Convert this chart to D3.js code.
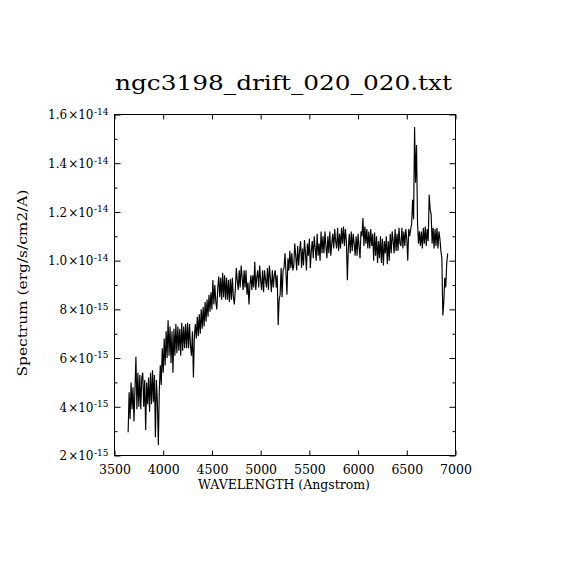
<!DOCTYPE html>
<html>
<head>
<meta charset="utf-8">
<script src="https://cdn.jsdelivr.net/npm/d3@7"></script>
<style>
  body { margin: 0; background: #fff; }
  svg { display: block; background: #fff; }
  text { font-family: "DejaVu Serif", "Liberation Serif", serif; fill: #000; }
</style>
</head>
<body>
<svg width="570" height="570"></svg>
<script>
// spectrum: flux in units of 1e-15 erg/s/cm2/A, one sample every 10 A from 3640 A
let waveStart = 3640;
let waveStep = 10;
let flux = [
  2.95, 4.6, 3.5, 5.0, 3.9, 4.8, 3.4, 4.7, 6.05, 3.9,
  5.4, 4.0, 5.3, 3.9, 5.2, 5.4, 4.0, 5.1, 3.05, 5.0,
  4.1, 5.2, 3.8, 5.4, 4.1, 5.5, 4.2, 5.3, 2.75, 5.1,
  4.2, 2.43, 4.7, 5.7, 4.9, 6.4, 5.4, 6.8, 5.7, 7.1,
  6.0, 7.55, 6.1, 7.3, 5.8, 7.1, 5.4, 7.2, 6.1, 7.4,
  6.2, 7.3, 6.3, 7.2, 6.1, 7.45, 6.3, 7.3, 6.4, 7.4,
  6.4, 7.45, 6.4, 7.4, 6.5, 6.1, 7.1, 5.2, 6.9, 7.4,
  6.8, 7.7, 6.9, 7.8, 7.0, 8.0, 7.2, 8.1, 7.3, 8.3,
  7.5, 8.4, 7.7, 8.6, 7.9, 8.7, 8.0, 9.2, 8.2, 9.0,
  8.3, 8.0, 8.9, 9.35, 8.5, 9.3, 8.4, 9.5, 8.5, 9.4,
  8.4, 9.3, 8.4, 9.2, 8.3, 9.25, 8.4, 9.3, 8.5, 8.2,
  8.8, 9.7, 9.2, 8.8, 9.6, 8.9, 9.8, 9.3, 8.8, 9.6,
  8.9, 9.6, 8.6, 9.1, 8.2, 9.0, 9.4, 8.8, 9.4, 8.9,
  9.95, 8.8, 9.3, 9.6, 8.9, 9.8, 9.2, 8.8, 9.6, 8.7,
  9.6, 9.2, 8.9, 9.7, 8.8, 9.8, 9.3, 8.7, 9.6, 8.9,
  9.4, 9.6, 8.9, 9.4, 7.36, 8.4, 8.6, 9.7, 8.5, 9.6,
  9.7, 10.3, 9.5, 8.6, 10.1, 9.6, 10.4, 9.7, 10.3, 9.6,
  9.8, 10.7, 10.2, 9.6, 10.6, 9.8, 10.4, 10.8, 9.7, 10.5,
  9.8, 10.85, 10.3, 9.6, 10.7, 10.2, 10.9, 9.7, 10.4, 10.8,
  10.1, 11.0, 10.5, 10.0, 11.1, 10.2, 10.7, 10.0, 11.2, 10.3,
  11.0, 10.3, 11.2, 10.6, 10.1, 11.0, 10.3, 11.2, 10.2, 10.7,
  11.1, 10.5, 11.3, 10.8, 10.5, 11.35, 10.4, 11.1, 10.5, 11.35,
  10.7, 11.4, 10.6, 11.3, 10.8, 9.2, 10.5, 11.1, 10.3, 11.2,
  10.4, 11.1, 10.7, 10.2, 11.0, 10.2, 11.1, 10.6, 10.1, 11.2,
  11.0, 11.75, 10.6, 11.4, 10.7, 11.3, 10.5, 11.2, 10.5, 11.3,
  10.6, 11.1, 10.0, 11.15, 10.2, 11.0, 9.9, 10.8, 10.1, 11.0,
  9.9, 10.9, 9.8, 10.8, 10.3, 11.0, 9.85, 10.8, 10.0, 11.1,
  10.3, 11.2, 10.8, 10.3, 11.3, 10.4, 11.1, 10.4, 11.35, 10.7,
  10.6, 11.35, 10.5, 11.2, 10.6, 11.3, 10.9, 10.0, 11.3, 11.0,
  11.3, 11.5, 12.5, 11.7, 15.49, 13.2, 14.75, 11.6, 10.7, 11.2,
  10.6, 11.2, 10.5, 11.35, 10.7, 11.4, 10.6, 11.3, 10.8, 12.7,
  12.1, 11.9, 10.7, 11.35, 10.5, 11.3, 10.6, 11.35, 10.5, 11.2,
  10.9, 10.4, 10.1, 7.75, 8.3, 9.3, 8.9, 9.9, 10.3
];

let xTicks = [3500, 4000, 4500, 5000, 5500, 6000, 6500, 7000];
let yTicks = [2, 4, 6, 8, 10, 12, 14, 16];
let yMinorTicks = [3, 5, 7, 9, 11, 13, 15];
let yTickMantissa = ["2", "4", "6", "8", "1.0", "1.2", "1.4", "1.6"];
let yTickExponent = ["-15", "-15", "-15", "-15", "-14", "-14", "-14", "-14"];

let title = "ngc3198_drift_020_020.txt";
let xLabel = "WAVELENGTH (Angstrom)";
let yLabel = "Spectrum (erg/s/cm2/A)";

let plotLeft = 114.5, plotRight = 455.5, plotTop = 114.5, plotBottom = 455.5;

let x = d3.scaleLinear().domain([3500, 7000]).range([plotLeft, plotRight]);
let y = d3.scaleLinear().domain([2, 16]).range([plotBottom, plotTop]);

let svg = d3.select("svg");

// frame
svg.append("rect")
  .attr("x", plotLeft)
  .attr("y", plotTop)
  .attr("width", plotRight - plotLeft)
  .attr("height", plotBottom - plotTop)
  .attr("fill", "none")
  .attr("stroke", "#000")
  .attr("stroke-width", 1);

// x ticks, inward on bottom and top
let xBottom = svg.append("g")
  .attr("transform", "translate(0," + plotBottom + ")")
  .call(d3.axisBottom(x).tickValues(xTicks).tickFormat(d3.format("d"))
    .tickSizeInner(-5).tickSizeOuter(0).tickPadding(13));
svg.append("g")
  .attr("transform", "translate(0," + plotTop + ")")
  .call(d3.axisTop(x).tickValues(xTicks).tickSizeInner(-5).tickSizeOuter(0).tickFormat(""));

// y ticks, major and minor, inward on left and right
let yLeft = svg.append("g")
  .attr("transform", "translate(" + plotLeft + ",0)")
  .call(d3.axisLeft(y).tickValues(yTicks).tickSizeInner(-6).tickSizeOuter(0).tickPadding(6));
svg.append("g")
  .attr("transform", "translate(" + plotLeft + ",0)")
  .call(d3.axisLeft(y).tickValues(yMinorTicks).tickSizeInner(-3).tickSizeOuter(0).tickFormat(""));
svg.append("g")
  .attr("transform", "translate(" + plotRight + ",0)")
  .call(d3.axisRight(y).tickValues(yTicks).tickSizeInner(-6).tickSizeOuter(0).tickFormat(""));
svg.append("g")
  .attr("transform", "translate(" + plotRight + ",0)")
  .call(d3.axisRight(y).tickValues(yMinorTicks).tickSizeInner(-3).tickSizeOuter(0).tickFormat(""));

svg.selectAll(".domain").remove();
svg.selectAll(".tick line").attr("stroke", "#000");

xBottom.selectAll("text")
  .attr("font-size", 12.5)
  .attr("font-family", null)
  .attr("dy", "0.4em");

// y labels as mantissa x 10^exponent
yLeft.selectAll(".tick text")
  .attr("font-size", 12)
  .attr("font-family", null)
  .attr("dy", "0.36em")
  .text("")
  .each(function (d, i) {
    let t = d3.select(this);
    t.append("tspan").text(yTickMantissa[i]);
    t.append("tspan").attr("dx", 1).text("\u00d7");
    t.append("tspan").text("10");
    t.append("tspan")
      .attr("font-size", 9)
      .attr("dx", 0.5)
      .attr("dy", -4.5)
      .text(yTickExponent[i]);
  });

// spectrum
let line = d3.line()
  .x(function (d, i) {
    return x(waveStart + i * waveStep);
  })
  .y(function (d) {
    return y(d);
  });

svg.append("path")
  .datum(flux)
  .attr("d", line)
  .attr("fill", "none")
  .attr("stroke", "#000")
  .attr("stroke-width", 1.15)
  .attr("stroke-linejoin", "miter");

// titles
svg.append("text")
  .attr("x", 283.5)
  .attr("y", 90)
  .attr("text-anchor", "middle")
  .attr("font-size", 21)
  .attr("textLength", 337)
  .attr("lengthAdjust", "spacingAndGlyphs")
  .text(title);

svg.append("text")
  .attr("x", 284)
  .attr("y", 489)
  .attr("text-anchor", "middle")
  .attr("font-size", 13)
  .attr("textLength", 172)
  .attr("lengthAdjust", "spacingAndGlyphs")
  .text(xLabel);

svg.append("text")
  .attr("transform", "translate(27,283) rotate(-90)")
  .attr("text-anchor", "middle")
  .attr("font-size", 13)
  .attr("textLength", 187)
  .attr("lengthAdjust", "spacingAndGlyphs")
  .text(yLabel);
</script>
</body>
</html>
